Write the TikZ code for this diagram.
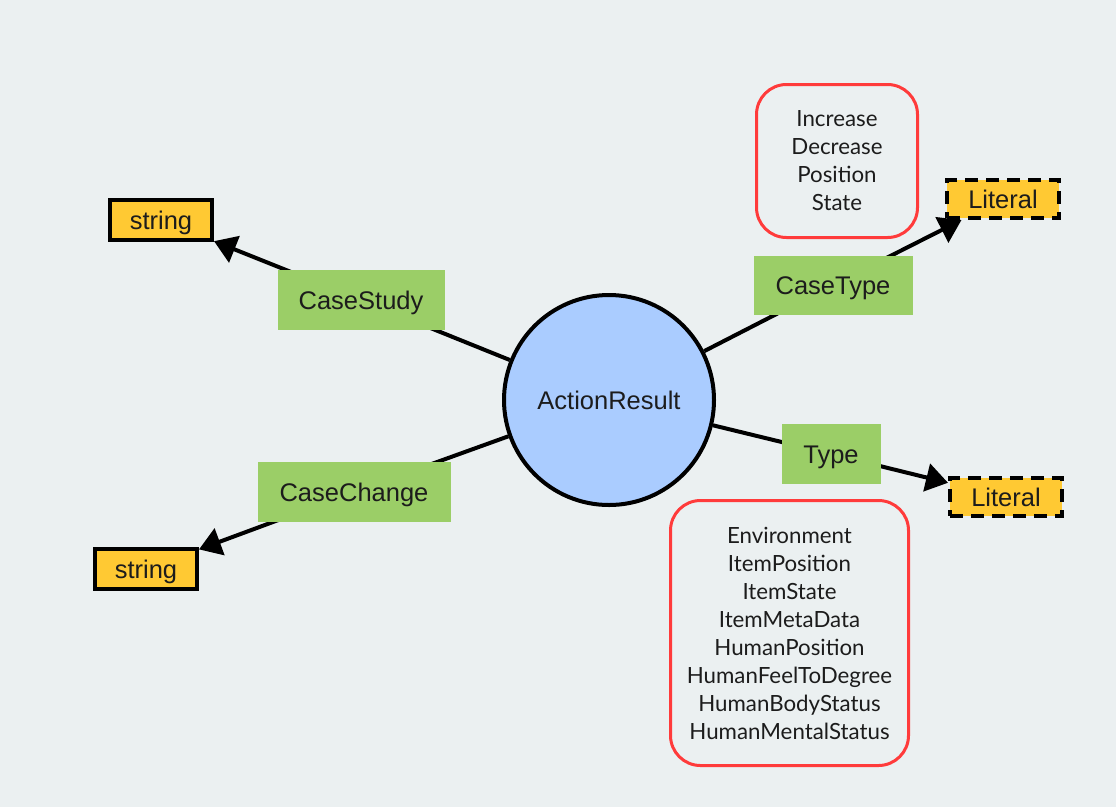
\documentclass[tikz,border=0pt]{standalone}
\usepackage{fontspec}
\setmainfont{Liberation Sans}
\newfontfamily\listfont{Lato}
\usetikzlibrary{arrows.meta}
\definecolor{bgc}{RGB}{235,240,241}
\definecolor{propgreen}{RGB}{155,206,103}
\definecolor{lityellow}{RGB}{255,201,51}
\definecolor{classblue}{RGB}{170,204,255}
\definecolor{listred}{RGB}{255,59,59}
\definecolor{txt}{RGB}{28,28,28}
\tikzset{
  lbl/.style={text=txt, font=\fontsize{25.5}{30}\selectfont, text height=18.3pt, text depth=0pt},
  prop/.style={lbl, fill=propgreen, inner sep=0pt, minimum height=60pt},
  strbox/.style={lbl, fill=lityellow, draw=black, line width=4pt, inner sep=0pt, minimum width=102pt, minimum height=40pt},
  litbox/.style={lbl, fill=lityellow, draw=black, line width=4pt, dash pattern=on 13pt off 8pt, inner sep=0pt, minimum width=112pt, minimum height=38pt},
  cls/.style={lbl, circle, fill=classblue, draw=black, line width=4pt, minimum size=210pt, inner sep=0pt},
  listbox/.style={draw=listred, line width=3pt, rounded corners=30pt, align=center, inner sep=0pt, text=txt, font=\listfont\fontsize{22.3}{28}\selectfont},
  conn/.style={line width=4pt, draw=black},
  arr/.style={conn, -{Triangle[length=22pt,width=28pt]}}
}
\begin{document}
\begin{tikzpicture}[x=1pt,y=-1pt]
\fill[bgc] (0,0) rectangle (1116,807);
\useasboundingbox (0,0) rectangle (1116,807);

\node[cls] (AR) at (609,400) {ActionResult};
\node[strbox] (S1) at (161,220) {string};
\node[strbox] (S2) at (146,569) {string};
\node[litbox] (L1) at (1003,199) {Literal};
\node[litbox] (L2) at (1006,497) {Literal};

\coordinate (CSc) at (361,300);
\coordinate (CCc) at (354,492);
\coordinate (CTc) at (833,285);
\coordinate (Tc) at (831,454);

\draw[conn] (AR) -- (CSc);
\draw[arr] (CSc) -- (S1);
\draw[conn] (AR) -- (CCc);
\draw[arr] (CCc) -- (S2);
\draw[conn] (AR) -- (CTc);
\draw[arr] (CTc) -- (L1);
\draw[conn] (AR) -- (Tc);
\draw[arr] (Tc) -- (L2);

\node[prop, minimum width=167pt] (CS) at (CSc) {CaseStudy};
\node[prop, minimum width=193pt] (CC) at (CCc) {CaseChange};
\node[prop, minimum width=159pt, minimum height=59pt] (CT) at (CTc) {CaseType};
\node[prop, minimum width=99pt] (T) at (Tc) {Type};

\node[listbox, minimum width=161pt, minimum height=153pt] (LB1) at (837,161)
  {Increase\\Decrease\\Position\\State};
\node[listbox, minimum width=238pt, minimum height=265pt] (LB2) at (789.5,633)
  {Environment\\ItemPosition\\ItemState\\ItemMetaData\\HumanPosition\\HumanFeelToDegree\\HumanBodyStatus\\HumanMentalStatus};
\end{tikzpicture}
\end{document}
